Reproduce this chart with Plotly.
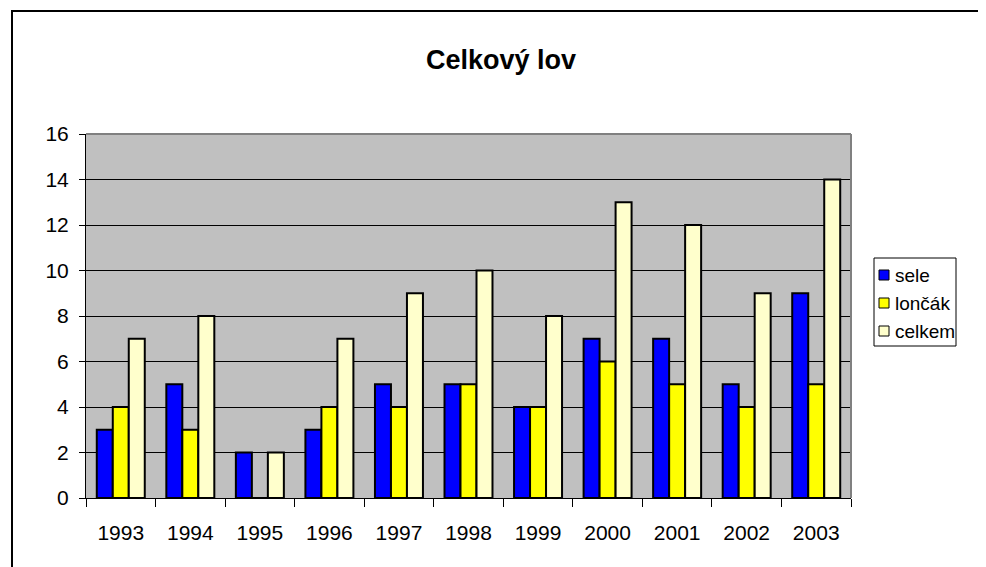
import plotly.graph_objects as go

# data
years = ["1993", "1994", "1995", "1996", "1997", "1998", "1999", "2000", "2001", "2002", "2003"]
sele = [3, 5, 2, 3, 5, 5, 4, 7, 7, 5, 9]
loncak = [4, 3, 0, 4, 4, 5, 4, 6, 5, 4, 5]
celkem = [7, 8, 2, 7, 9, 10, 8, 13, 12, 9, 14]

series = [("sele", sele, "#0000FF"),
          ("lončák", loncak, "#FFFF00"),
          ("celkem", celkem, "#FFFFCC")]

font = "Liberation Sans, Arial, sans-serif"

fig = go.Figure()
for name, vals, col in series:
    fig.add_trace(go.Bar(x=years, y=vals, name=name, showlegend=False,
                         marker=dict(color=col, line=dict(color="black", width=2))))

# plot area: x 78..843, y 126..490 in pixels
L, R, T, B = 78, 843, 126, 490
W, H = 986, 567
pw, ph = R - L, B - T

def px(x):
    return (x - L) / pw

def py(y):
    return (B - y) / ph

shapes = [
    # gray frame of the plot area (top and right)
    dict(type="line", xref="paper", yref="paper", x0=0, x1=1, y0=1, y1=1,
         line=dict(color="#808080", width=2)),
    dict(type="line", xref="paper", yref="paper", x0=1, x1=1, y0=0, y1=1,
         line=dict(color="#808080", width=2)),
    # outer chart border
    dict(type="rect", xref="paper", yref="paper",
         x0=px(4), x1=px(W + 10), y0=py(H + 10), y1=py(3),
         line=dict(color="black", width=2)),
    # legend box
    dict(type="rect", xref="paper", yref="paper",
         x0=px(866), x1=px(948), y0=py(338), y1=py(250),
         line=dict(color="black", width=1), fillcolor="white"),
]
annotations = []
for i, (name, vals, col) in enumerate(series):
    yc = 267 + 28 * i
    shapes.append(dict(type="rect", xref="paper", yref="paper",
                       x0=px(871), x1=px(881), y0=py(yc + 5), y1=py(yc - 5),
                       line=dict(color="black", width=1), fillcolor=col))
    annotations.append(dict(text=name, xref="paper", yref="paper",
                            x=px(885), y=py(yc), xanchor="left", yanchor="middle",
                            showarrow=False, font=dict(size=19)))

fig.update_layout(
    width=W, height=H,
    margin=dict(l=L, r=W - R, t=T, b=H - B),
    paper_bgcolor="white",
    plot_bgcolor="#C0C0C0",
    font=dict(family=font, size=21, color="black"),
    title=dict(text="<b>Celkový lov</b>", x=0.5, xanchor="center",
               y=1 - 52 / H, yanchor="middle", font=dict(size=27)),
    barmode="group",
    bargap=0.31,
    bargroupgap=0,
    xaxis=dict(showgrid=False, showline=True, linecolor="black", linewidth=1,
               ticks="outside", tickson="boundaries", ticklen=8,
               tickcolor="black", ticklabelstandoff=16),
    yaxis=dict(range=[0, 16], dtick=2, showgrid=True, gridcolor="black",
               gridwidth=1, showline=True, linecolor="black", linewidth=1,
               ticks="outside", ticklen=6, tickcolor="black",
               zeroline=False, ticklabelstandoff=6),
    shapes=shapes,
    annotations=annotations,
)

fig.write_html("out.html")
